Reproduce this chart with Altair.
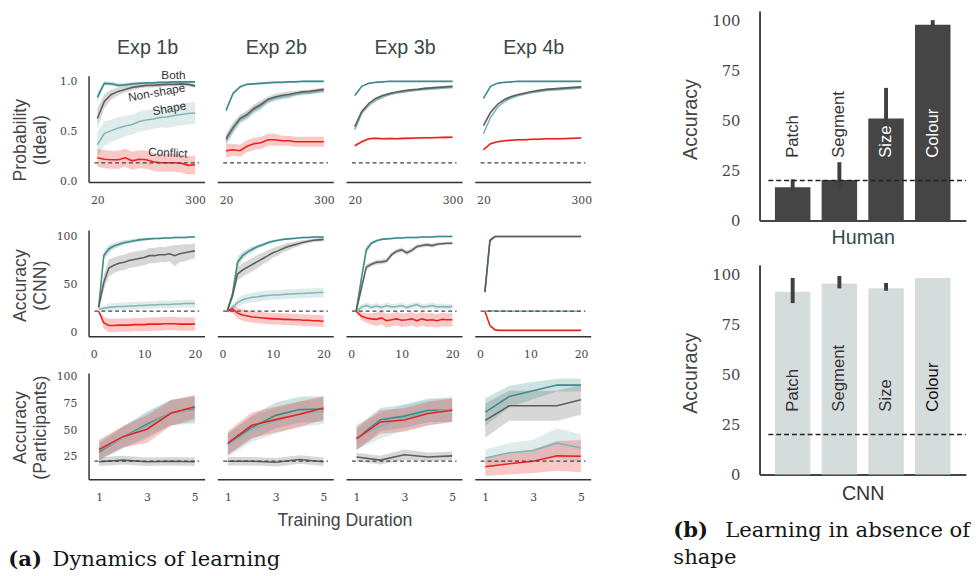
import altair as alt
import pandas as pd

SERIF = "DejaVu Serif"
SANS = "Liberation Sans"

# ---------------- data: learning dynamics ----------------
EXPS = ["Exp 1b", "Exp 2b", "Exp 3b", "Exp 4b"]
SERIES = ["Both", "Shape", "Non-shape", "Conflict"]
COLORS = {"Both": "#3d8c8b", "Shape": "#84b5b5", "Non-shape": "#5e5e5e", "Conflict": "#e8231e"}

X_IDEAL = [20, 40, 60, 80, 100, 120, 140, 160, 180, 200, 220, 240, 260, 280, 300]
X_CNN = [1, 2, 3, 4, 5, 6, 7, 8, 9, 10, 11, 12, 13, 14, 15, 16, 17, 18, 19, 20]
X_PART = [1, 2, 3, 4, 5]

# Row 1: Probability (Ideal)
I1_BOTH = [0.84, 0.98, 0.975, 0.96, 0.965, 0.975, 0.98, 0.985, 0.985, 0.99, 0.99, 0.995, 0.995, 0.995, 0.995]
I1_BOTH_E = [0.05, 0.02, 0.02, 0.02, 0.02, 0.015, 0.015, 0.01, 0.01, 0.01, 0.01, 0.01, 0.01, 0.01, 0.01]
I1_NON = [0.63, 0.80, 0.87, 0.90, 0.92, 0.94, 0.95, 0.96, 0.96, 0.965, 0.97, 0.97, 0.975, 0.97, 0.955]
I1_NON_E = [0.10, 0.07, 0.05, 0.04, 0.03, 0.03, 0.02, 0.02, 0.02, 0.02, 0.02, 0.02, 0.02, 0.02, 0.02]
I1_SHAPE = [0.37, 0.48, 0.51, 0.535, 0.555, 0.57, 0.60, 0.615, 0.625, 0.64, 0.645, 0.66, 0.67, 0.68, 0.685]
I1_SHAPE_E = [0.13, 0.12, 0.11, 0.11, 0.10, 0.10, 0.10, 0.10, 0.10, 0.10, 0.11, 0.11, 0.11, 0.11, 0.11]
I1_CONF = [0.24, 0.225, 0.22, 0.22, 0.24, 0.21, 0.225, 0.22, 0.20, 0.19, 0.19, 0.19, 0.185, 0.165, 0.17]
I1_CONF_E = [0.09, 0.09, 0.09, 0.09, 0.09, 0.09, 0.09, 0.09, 0.09, 0.09, 0.09, 0.09, 0.09, 0.09, 0.09]

I2_BOTH = [0.71, 0.88, 0.945, 0.97, 0.975, 0.98, 0.985, 0.99, 0.99, 0.995, 0.995, 1.0, 1.0, 1.0, 1.0]
I2_BOTH_E = [0.03, 0.02, 0.015, 0.01, 0.01, 0.01, 0.01, 0.01, 0.01, 0.01, 0.01, 0.01, 0.01, 0.01, 0.01]
I2_NON = [0.43, 0.54, 0.63, 0.67, 0.73, 0.77, 0.82, 0.845, 0.86, 0.87, 0.885, 0.895, 0.90, 0.91, 0.92]
I2_NON_E = [0.05, 0.05, 0.04, 0.04, 0.04, 0.04, 0.03, 0.03, 0.03, 0.03, 0.02, 0.02, 0.02, 0.02, 0.02]
I2_SHAPE = [0.41, 0.525, 0.615, 0.655, 0.715, 0.755, 0.805, 0.83, 0.845, 0.855, 0.87, 0.88, 0.885, 0.895, 0.905]
I2_SHAPE_E = [0.05, 0.05, 0.04, 0.04, 0.04, 0.04, 0.03, 0.03, 0.03, 0.03, 0.02, 0.02, 0.02, 0.02, 0.02]
I2_CONF = [0.31, 0.32, 0.31, 0.355, 0.38, 0.39, 0.42, 0.42, 0.41, 0.41, 0.40, 0.40, 0.40, 0.40, 0.40]
I2_CONF_E = [0.07, 0.06, 0.06, 0.06, 0.06, 0.06, 0.06, 0.06, 0.05, 0.05, 0.05, 0.05, 0.05, 0.05, 0.05]

I3_BOTH = [0.86, 0.95, 0.98, 0.99, 0.995, 1.0, 1.0, 1.0, 1.0, 1.0, 1.0, 1.0, 1.0, 1.0, 1.0]
I3_BOTH_E = [0.01, 0.005, 0.005, 0.005, 0.005, 0.005, 0.005, 0.005, 0.005, 0.005, 0.005, 0.005, 0.005, 0.005, 0.005]
I3_NON = [0.55, 0.70, 0.78, 0.83, 0.86, 0.88, 0.895, 0.905, 0.915, 0.92, 0.93, 0.935, 0.94, 0.945, 0.95]
I3_NON_E = [0.01, 0.01, 0.01, 0.01, 0.01, 0.01, 0.01, 0.01, 0.01, 0.01, 0.01, 0.01, 0.01, 0.01, 0.01]
I3_SHAPE = [0.52, 0.68, 0.76, 0.81, 0.845, 0.87, 0.885, 0.895, 0.905, 0.915, 0.92, 0.925, 0.93, 0.935, 0.94]
I3_SHAPE_E = [0.01, 0.01, 0.01, 0.01, 0.01, 0.01, 0.01, 0.01, 0.01, 0.01, 0.01, 0.01, 0.01, 0.01, 0.01]
I3_CONF = [0.36, 0.40, 0.43, 0.435, 0.43, 0.432, 0.43, 0.433, 0.435, 0.437, 0.44, 0.44, 0.442, 0.443, 0.445]
I3_CONF_E = [0.01, 0.01, 0.01, 0.01, 0.01, 0.01, 0.01, 0.01, 0.01, 0.01, 0.01, 0.01, 0.01, 0.01, 0.01]

I4_BOTH = [0.83, 0.95, 0.98, 0.99, 0.995, 1.0, 1.0, 1.0, 1.0, 1.0, 1.0, 1.0, 1.0, 1.0, 1.0]
I4_BOTH_E = [0.01, 0.005, 0.005, 0.005, 0.005, 0.005, 0.005, 0.005, 0.005, 0.005, 0.005, 0.005, 0.005, 0.005, 0.005]
I4_NON = [0.56, 0.69, 0.77, 0.82, 0.85, 0.87, 0.885, 0.90, 0.91, 0.92, 0.925, 0.93, 0.935, 0.94, 0.945]
I4_NON_E = [0.01, 0.01, 0.01, 0.01, 0.01, 0.01, 0.01, 0.01, 0.01, 0.01, 0.01, 0.01, 0.01, 0.01, 0.01]
I4_SHAPE = [0.48, 0.64, 0.74, 0.80, 0.835, 0.86, 0.875, 0.89, 0.90, 0.91, 0.915, 0.92, 0.925, 0.93, 0.935]
I4_SHAPE_E = [0.01, 0.01, 0.01, 0.01, 0.01, 0.01, 0.01, 0.01, 0.01, 0.01, 0.01, 0.01, 0.01, 0.01, 0.01]
I4_CONF = [0.32, 0.38, 0.40, 0.41, 0.415, 0.42, 0.42, 0.425, 0.425, 0.43, 0.43, 0.43, 0.432, 0.435, 0.437]
I4_CONF_E = [0.01, 0.01, 0.01, 0.01, 0.01, 0.01, 0.01, 0.01, 0.01, 0.01, 0.01, 0.01, 0.01, 0.01, 0.01]

# Row 2: Accuracy (CNN)
C1_BOTH = [26, 80, 87, 90, 92, 93.5, 94.5, 95.5, 96.5, 97, 97.5, 98, 98, 98.5, 98.5, 99, 99, 99, 99.5, 99.5]
C1_BOTH_E = [1, 4, 4, 3, 3, 2.5, 2, 2, 2, 1.5, 1.5, 1, 1, 1, 1, 1, 1, 1, 1, 1]
C1_NON = [26, 52, 67, 70, 72, 73, 75, 76, 77, 78, 80, 80, 81, 81, 82, 80, 82, 83, 84, 85]
C1_NON_E = [1, 8, 9, 8, 8, 8, 8, 8, 8, 8, 8, 8, 8, 8, 8, 11, 9, 9, 8, 8]
C1_SHAPE = [24, 25, 26, 26.5, 27, 27, 27.5, 27.5, 28, 28, 28.5, 28.5, 29, 29, 29, 29.5, 29.5, 30, 30, 30]
C1_SHAPE_E = [1, 3, 4, 4, 4, 4, 4, 4, 4, 4, 4, 4, 4, 4, 4, 4, 4, 4, 4, 4]
C1_CONF = [22, 10, 7, 7, 7.5, 7.5, 7.5, 8, 8, 8, 8.5, 8.5, 8.5, 9, 9, 9, 8.5, 8.5, 8.5, 8.5]
C1_CONF_E = [1, 6, 7, 7, 7, 7, 7, 7, 7, 7, 7, 7, 7, 7, 7, 7, 7, 7, 7, 7]

C2_BOTH = [23, 40, 73, 80, 84, 87, 89.5, 91.5, 93.5, 95, 96, 97, 97.5, 98, 98.5, 99, 99, 99.5, 99.5, 99.5]
C2_BOTH_E = [1, 4, 6, 4, 3, 3, 2, 2, 2, 1.5, 1, 1, 1, 1, 1, 1, 1, 1, 1, 1]
C2_NON = [23, 38, 61, 65, 68, 71, 74, 77, 80, 83, 85, 87.5, 89.5, 91, 92.5, 94, 95, 96, 96.5, 97]
C2_NON_E = [1, 4, 7, 7, 7, 7, 7, 6, 6, 5, 5, 4, 4, 3, 3, 2, 2, 2, 2, 2]
C2_SHAPE = [22, 26, 31, 34, 35.5, 36.5, 37, 38, 38.5, 39, 39, 39.5, 40, 40, 40.5, 40.5, 41, 41, 41.5, 41.5]
C2_SHAPE_E = [1, 3, 4, 5, 5, 5, 5, 5, 5, 5, 5, 5, 5, 5, 5, 5, 5, 5, 5, 5]
C2_CONF = [22, 24.5, 20, 18, 17, 16, 15.5, 15, 14.5, 14, 14, 13.5, 13.5, 13, 13, 12.5, 12.5, 12, 12, 11.5]
C2_CONF_E = [1, 4, 6, 6, 6, 6, 6, 6, 6, 6, 6, 6, 6, 6, 6, 6, 6, 6, 6, 6]

C3_BOTH = [22, 55, 86, 93, 95.5, 97, 97.5, 98, 98.5, 98.5, 99, 99, 99, 99.5, 99.5, 99.5, 100, 100, 100, 100]
C3_BOTH_E = [1, 4, 4, 2, 1.5, 1, 1, 1, 1, 1, 1, 1, 1, 1, 1, 1, 1, 1, 1, 1]
C3_NON = [22, 45, 68, 71, 73, 73.5, 74.5, 81, 84.5, 86, 83, 85.5, 89.5, 90.5, 91.5, 90.5, 92, 92.5, 93, 93]
C3_NON_E = [1, 3, 3, 2.5, 2.5, 2.5, 2.5, 2.5, 2.5, 2.5, 2.5, 2.5, 2, 2, 2, 2, 2, 1.5, 1.5, 1.5]
C3_SHAPE = [22, 26, 28, 26, 27.5, 26, 28, 26.5, 27, 28, 26, 27.5, 29, 26.5, 27, 28, 26.5, 27, 26.5, 27]
C3_SHAPE_E = [1, 3, 3, 3, 3, 3, 3, 3, 3, 3, 3, 3, 3, 3, 3, 3, 3, 3, 3, 3]
C3_CONF = [22, 17, 15, 14, 13.5, 15, 12, 13, 14, 12.5, 13, 14, 12, 14, 12.5, 13, 12, 13.5, 13, 13]
C3_CONF_E = [1, 4, 5, 6, 7, 7, 7, 7, 7, 7, 7, 7, 7, 7, 7, 7, 7, 7, 7, 7]

C4_BOTH = [42, 96, 100, 100, 100, 100, 100, 100, 100, 100, 100, 100, 100, 100, 100, 100, 100, 100, 100, 100]
C4_BOTH_E = [2, 2, 0.3, 0.3, 0.3, 0.3, 0.3, 0.3, 0.3, 0.3, 0.3, 0.3, 0.3, 0.3, 0.3, 0.3, 0.3, 0.3, 0.3, 0.3]
C4_NON = [42, 96, 100, 100, 100, 100, 100, 100, 100, 100, 100, 100, 100, 100, 100, 100, 100, 100, 100, 100]
C4_NON_E = [2, 2, 0.3, 0.3, 0.3, 0.3, 0.3, 0.3, 0.3, 0.3, 0.3, 0.3, 0.3, 0.3, 0.3, 0.3, 0.3, 0.3, 0.3, 0.3]
C4_SHAPE = [22, 22.5, 22.2, 22, 22.1, 22, 22, 21.9, 22, 22, 22.1, 22, 21.9, 22, 22, 22, 21.9, 22, 22, 22]
C4_SHAPE_E = [0.5, 0.6, 0.6, 0.6, 0.6, 0.6, 0.6, 0.6, 0.6, 0.6, 0.6, 0.6, 0.6, 0.6, 0.6, 0.6, 0.6, 0.6, 0.6, 0.6]
C4_CONF = [22, 7, 2.5, 2, 2, 2, 2, 2, 2, 2, 2, 2, 2, 2, 2, 2, 2, 2, 2, 2]
C4_CONF_E = [0.5, 0.8, 0.4, 0.3, 0.3, 0.3, 0.3, 0.3, 0.3, 0.3, 0.3, 0.3, 0.3, 0.3, 0.3, 0.3, 0.3, 0.3, 0.3, 0.3]

# Row 3: Accuracy (Participants)
P1_BOTH = [29.6, 43.4, 55.6, 66.4, 70]
P1_BOTH_E = [8, 10, 12, 12, 12]
P1_NON = [20.5, 22, 20.5, 21, 20.5]
P1_NON_E = [4, 4, 4, 4, 4]
P1_SHAPE = [31, 43, 54, 67, 69]
P1_SHAPE_E = [9, 10, 12, 12, 13]
P1_CONF = [32, 44, 51, 66, 72]
P1_CONF_E = [9, 10, 13, 12, 11]

P2_BOTH = [37, 52.6, 64, 69.4, 70]
P2_BOTH_E = [10, 11, 12, 12, 12]
P2_NON = [21, 21, 20, 22.5, 20.5]
P2_NON_E = [4, 4, 4, 4, 4]
P2_SHAPE = [36, 51, 58.7, 65, 68]
P2_SHAPE_E = [11, 12, 12, 12, 12]
P2_CONF = [38, 54.7, 60, 65, 71]
P2_CONF_E = [11, 12, 12, 12, 11]

P3_BOTH = [42.5, 60, 63.3, 68.8, 68.8]
P3_BOTH_E = [11, 11, 11, 11, 11]
P3_NON = [25, 22, 27, 25, 26]
P3_NON_E = [4, 4, 5, 4, 4]
P3_SHAPE = [43.4, 54, 61.8, 66.4, 70]
P3_SHAPE_E = [12, 12, 12, 12, 12]
P3_CONF = [42, 57.8, 59.6, 65.7, 68.8]
P3_CONF_E = [10, 11, 11, 11, 11]

P4_BOTH = [67, 81.7, 87.2, 92.4, 92.4]
P4_BOTH_E = [13, 10, 8, 6, 6]
P4_NON = [59.3, 73, 73, 73, 78.6]
P4_NON_E = [16, 14, 14, 14, 14]
P4_SHAPE = [24, 29, 31, 37.9, 33.3]
P4_SHAPE_E = [8, 9, 10, 14, 13]
P4_CONF = [15.8, 18.6, 21, 26, 25.6]
P4_CONF_E = [8.5, 10, 11, 14, 15]

# annotation labels in the first panel
ANN_TEXT = ["Both", "Non-shape", "Shape", "Conflict"]
ANN_X = [238, 190, 226, 222]
ANN_Y = [1.062, 0.889, 0.73, 0.29]
ANN_ANGLE = [0, 350, 350, 3]

# ---------------- data: bar charts ----------------
BAR_CATS = ["Patch", "Segment", "Size", "Colour"]
HUMAN_ACC = [16.7, 20.3, 51.1, 98.0]
HUMAN_LO = [14.3, 16.1, 35.8, 96.9]
HUMAN_HI = [20.6, 29.2, 66.4, 100.3]
HUMAN_TEXT_COLORS = ["#333333", "#333333", "#ffffff", "#ffffff"]
CNN_ACC = [91.4, 95.5, 93.1, 98.3]
CNN_LO = [85.7, 93.1, 91.9, 98.3]
CNN_HI = [98.3, 99.3, 95.8, 98.3]
CNN_TEXT_COLORS = ["#333333", "#333333", "#333333", "#111111"]
BAR_CHANCE = 20
BAR_LABEL_Y = 31.4

CAP_A = ["(a)", "Dynamics of learning"]
CAP_B = ["(b)", "Learning in absence of", "shape"]

ROWS = [
    dict(x=X_IDEAL, xdom=[-5, 327], xticks=[20, 300], ydom=[0, 1.055], yticks=[0.0, 0.5, 1.0],
         yfmt=".1f", chance=0.19, ytitle=["Probability", "(Ideal)"], titleY=65),
    dict(x=X_CNN, xdom=[-1, 21.9], xticks=[0, 10, 20], ydom=[-4.1, 106.7], yticks=[0, 50, 100],
         yfmt="d", chance=22, ytitle=["Accuracy", "(CNN)"], titleY=56),
    dict(x=X_PART, xdom=[0.56, 5.41], xticks=[1, 3, 5], ydom=[4.1, 103.7], yticks=[25, 50, 75, 100],
         yfmt="d", chance=21, ytitle=["Accuracy", "(Participants)"], titleY=55),
]

PANELS = [
    [
        {"Both": (I1_BOTH, I1_BOTH_E), "Shape": (I1_SHAPE, I1_SHAPE_E), "Non-shape": (I1_NON, I1_NON_E), "Conflict": (I1_CONF, I1_CONF_E)},
        {"Both": (I2_BOTH, I2_BOTH_E), "Shape": (I2_SHAPE, I2_SHAPE_E), "Non-shape": (I2_NON, I2_NON_E), "Conflict": (I2_CONF, I2_CONF_E)},
        {"Both": (I3_BOTH, I3_BOTH_E), "Shape": (I3_SHAPE, I3_SHAPE_E), "Non-shape": (I3_NON, I3_NON_E), "Conflict": (I3_CONF, I3_CONF_E)},
        {"Both": (I4_BOTH, I4_BOTH_E), "Shape": (I4_SHAPE, I4_SHAPE_E), "Non-shape": (I4_NON, I4_NON_E), "Conflict": (I4_CONF, I4_CONF_E)},
    ],
    [
        {"Both": (C1_BOTH, C1_BOTH_E), "Shape": (C1_SHAPE, C1_SHAPE_E), "Non-shape": (C1_NON, C1_NON_E), "Conflict": (C1_CONF, C1_CONF_E)},
        {"Both": (C2_BOTH, C2_BOTH_E), "Shape": (C2_SHAPE, C2_SHAPE_E), "Non-shape": (C2_NON, C2_NON_E), "Conflict": (C2_CONF, C2_CONF_E)},
        {"Both": (C3_BOTH, C3_BOTH_E), "Shape": (C3_SHAPE, C3_SHAPE_E), "Non-shape": (C3_NON, C3_NON_E), "Conflict": (C3_CONF, C3_CONF_E)},
        {"Both": (C4_BOTH, C4_BOTH_E), "Shape": (C4_SHAPE, C4_SHAPE_E), "Non-shape": (C4_NON, C4_NON_E), "Conflict": (C4_CONF, C4_CONF_E)},
    ],
    [
        {"Both": (P1_BOTH, P1_BOTH_E), "Shape": (P1_SHAPE, P1_SHAPE_E), "Non-shape": (P1_NON, P1_NON_E), "Conflict": (P1_CONF, P1_CONF_E)},
        {"Both": (P2_BOTH, P2_BOTH_E), "Shape": (P2_SHAPE, P2_SHAPE_E), "Non-shape": (P2_NON, P2_NON_E), "Conflict": (P2_CONF, P2_CONF_E)},
        {"Both": (P3_BOTH, P3_BOTH_E), "Shape": (P3_SHAPE, P3_SHAPE_E), "Non-shape": (P3_NON, P3_NON_E), "Conflict": (P3_CONF, P3_CONF_E)},
        {"Both": (P4_BOTH, P4_BOTH_E), "Shape": (P4_SHAPE, P4_SHAPE_E), "Non-shape": (P4_NON, P4_NON_E), "Conflict": (P4_CONF, P4_CONF_E)},
    ],
]

PANEL_W = 118
PANEL_H = 108
DRAW_ORDER = ["Both", "Shape", "Non-shape", "Conflict"]


def text_layer(t, px, py, **kw):
    return alt.Chart(pd.DataFrame({"t": [t]})).mark_text(**kw).encode(
        text="t:N", x=alt.value(px), y=alt.value(py))


def marker(px, py, width=1):
    # invisible (white) tick used only to fix layout bounds
    return alt.Chart(pd.DataFrame({"m": [0]})).mark_rule(color="#ffffff", strokeWidth=width).encode(
        x=alt.value(px), x2=alt.value(px + 0.5), y=alt.value(py))


def panel(r, c):
    cfg = ROWS[r]
    xs = cfg["x"]
    data = PANELS[r][c]
    xa = dict(values=cfg["xticks"], title=None, labelFont=SERIF, labelFontSize=11,
              labelPadding=13, labelColor="#444444", format="d", ticks=False, grid=False,
              domainColor="#333333", domainWidth=1.5)
    if r == 2 and c == 1:
        xa.update(title="Training Duration", titleX=129.3, titleY=47, titleBaseline="alphabetic",
                  titleAlign="center", titleAnchor="middle", titleFont=SANS, titleFontSize=18,
                  titleFontWeight="normal", titleColor="#444444")
    xenc = alt.X("x:Q", scale=alt.Scale(domain=cfg["xdom"], nice=False, zero=False), axis=alt.Axis(**xa))
    yscale = alt.Scale(domain=cfg["ydom"], nice=False, zero=False)
    if c == 0:
        yaxis = alt.Axis(values=cfg["yticks"], format=cfg["yfmt"], title=cfg["ytitle"],
                         labelFont=SERIF, labelFontSize=11, labelPadding=12, labelColor="#444444",
                         ticks=False, grid=False, domainColor="#333333", domainWidth=1.5,
                         titleFont=SANS, titleFontSize=18, titleFontWeight="normal", titleColor="#444444",
                         titleAngle=270, titleX=-60, titleY=cfg["titleY"], titleAlign="center",
                         titleBaseline="bottom", titleLineHeight=20)
    else:
        yaxis = None

    frames = {}
    for s in DRAW_ORDER:
        mean, err = data[s]
        frames[s] = pd.DataFrame({
            "x": xs,
            "mean": mean,
            "lo": [m - e for m, e in zip(mean, err)],
            "hi": [m + e for m, e in zip(mean, err)],
        })
    layers = []
    for s in DRAW_ORDER:
        layers.append(
            alt.Chart(frames[s]).mark_area(color=COLORS[s], opacity=0.25, clip=True).encode(
                x=xenc, y=alt.Y("lo:Q", scale=yscale, axis=yaxis), y2="hi:Q")
        )
    for s in DRAW_ORDER:
        layers.append(
            alt.Chart(frames[s]).mark_line(color=COLORS[s], strokeWidth=1.6, clip=True).encode(
                x=xenc, y=alt.Y("mean:Q", scale=yscale, axis=yaxis))
        )
    layers.append(
        alt.Chart(pd.DataFrame({"c": [cfg["chance"]]})).mark_rule(
            color="#444444", strokeDash=[4, 3], strokeWidth=1.2).encode(
            y=alt.Y("c:Q", scale=yscale, axis=yaxis), x=alt.value(6), x2=alt.value(112.5))
    )
    if r == 0 and c == 0:
        for t, ax, ay, ang in zip(ANN_TEXT, ANN_X, ANN_Y, ANN_ANGLE):
            layers.append(
                alt.Chart(pd.DataFrame({"t": [t], "x": [ax], "y": [ay]})).mark_text(
                    font=SANS, fontSize=12, color="#333333", angle=ang, align="center",
                    baseline="middle").encode(
                    x=xenc, y=alt.Y("y:Q", scale=yscale, axis=yaxis), text="t:N")
            )
    if r == 0:
        layers.append(text_layer(EXPS[c], 60, -22, font=SANS, fontSize=20, color="#3a4747",
                                 align="center", baseline="alphabetic"))
    if c == 0:
        layers.append(marker(-81.5, -64.5 if r == 0 else 50))
    if r == 2 and c == 0:
        layers.append(text_layer(CAP_A[0], -81.7, 196, font=SERIF, fontSize=21.5, fontWeight="bold",
                                 color="#151515", align="left", baseline="alphabetic"))
        layers.append(text_layer(CAP_A[1], -36.7, 196, font=SERIF, fontSize=21.5,
                                 color="#151515", align="left", baseline="alphabetic"))
    return alt.layer(*layers).properties(width=PANEL_W, height=PANEL_H)


def bar_chart(acc, lo, hi, tcolors, fill, xtitle, xtitle_color, xtitle_y, ydom, height, cap=False):
    df = pd.DataFrame({"cat": BAR_CATS, "acc": acc, "lo": lo, "hi": hi, "tc": tcolors,
                       "ly": [BAR_LABEL_Y for _ in BAR_CATS]})
    x = alt.X("cat:N", sort=BAR_CATS,
              scale=alt.Scale(paddingInner=0.24, paddingOuter=0.33),
              axis=alt.Axis(labels=False, ticks=False, grid=False, title=xtitle, domainColor="#444444",
                            domainWidth=2, titleFont=SANS, titleFontSize=20, titleFontWeight="normal",
                            titleColor=xtitle_color, titleY=xtitle_y, titleBaseline="alphabetic"))
    yscale = alt.Scale(domain=ydom, nice=False, zero=False)
    yaxis = alt.Axis(values=[0, 25, 50, 75, 100], title="Accuracy", labelFont=SERIF, labelFontSize=15,
                     labelPadding=20, labelColor="#444444", ticks=False, grid=False,
                     domainColor="#444444", domainWidth=2, titleFont=SANS, titleFontSize=20,
                     titleFontWeight="normal", titleColor="#444444", titleAngle=270, titleX=-60,
                     titleY=110, titleAlign="center", titleBaseline="bottom")
    base = alt.Chart(df)
    bars = base.mark_bar(color=fill).encode(x=x, y=alt.Y("acc:Q", scale=yscale, axis=yaxis))
    err = base.mark_rule(color="#404040", strokeWidth=4).encode(
        x=x, y=alt.Y("lo:Q", scale=yscale, axis=yaxis), y2="hi:Q")
    chance = alt.Chart(pd.DataFrame({"c": [BAR_CHANCE]})).mark_rule(
        color="#222222", strokeDash=[5, 3], strokeWidth=1.5).encode(
        y=alt.Y("c:Q", scale=yscale, axis=yaxis), x=alt.value(9), x2=alt.value(210))
    labels = base.mark_text(angle=270, align="left", baseline="middle", font=SANS, fontSize=17).encode(
        x=x, y=alt.Y("ly:Q", scale=yscale, axis=yaxis), text="cat:N", color=alt.Color("tc:N", scale=None))
    layers = [bars, err, chance, labels]
    if cap:
        layers.append(text_layer(CAP_B[0], -87.7, 277.5, font=SERIF, fontSize=21.5, fontWeight="bold",
                                 color="#151515", align="left", baseline="alphabetic"))
        layers.append(text_layer(CAP_B[1], -35, 277.5, font=SERIF, fontSize=21.5,
                                 color="#151515", align="left", baseline="alphabetic"))
        layers.append(text_layer(CAP_B[2], -87.7, 305, font=SERIF, fontSize=21.5,
                                 color="#151515", align="left", baseline="alphabetic"))
    return alt.layer(*layers).properties(width=210, height=height)


rows = [alt.hconcat(*[panel(r, c) for c in range(4)], spacing=13, bounds="flush") for r in range(3)]

# 1x1 invisible view that anchors the top of the left column to the top of the bar charts
spacer = marker(0, 0.5, width=0.01).properties(width=1, height=1)

left = alt.vconcat(
    spacer,
    alt.vconcat(rows[0], alt.vconcat(rows[1], rows[2], spacing=11.5), spacing=25),
    spacing=0,
)

bar_h = bar_chart(HUMAN_ACC, HUMAN_LO, HUMAN_HI, HUMAN_TEXT_COLORS, "#454545", "Human", "#2f4a4a", 23,
                  [0, 104.9], 213.3)
bar_c = bar_chart(CNN_ACC, CNN_LO, CNN_HI, CNN_TEXT_COLORS, "#d5dddc", "CNN", "#333333", 25.5,
                  [0, 104.9], 213.4, cap=True)

right = alt.vconcat(bar_h, bar_c, spacing=44.3, bounds="flush")

chart = alt.hconcat(left, right, spacing=82.8).properties(
    padding={"left": 0, "top": -2, "right": 0, "bottom": 0}
).configure_view(stroke=None)

chart.save("out.html", embed_options={"renderer": "svg", "actions": False})
